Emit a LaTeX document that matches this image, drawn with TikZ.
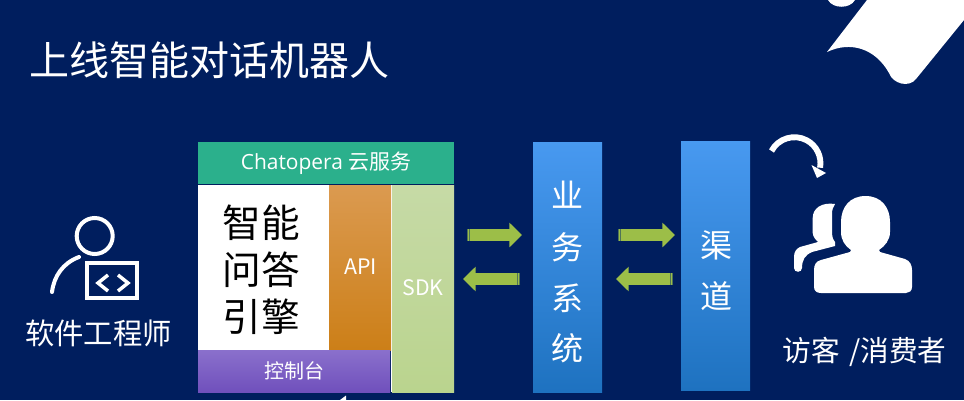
\documentclass[tikz,border=0pt]{standalone}
\usepackage{fontspec}
\setmainfont{Open Sans}
\newfontfamily\cjk{Noto Sans CJK SC}
\usetikzlibrary{positioning, arrows.meta, calc}

\definecolor{bgblue}{HTML}{001E5E}
\definecolor{flowgreen}{HTML}{9CBE48}
\definecolor{flowstripe}{HTML}{4F7458}

\tikzset{
    panel/.style={rectangle, inner sep=0pt, outer sep=0pt, text=white, align=center},
    label/.style={text=white, inner sep=0pt, font=\cjk\fontsize{#1}{#1}\selectfont},
    flow/.style={line width=9pt, draw=flowgreen, -{Triangle[width=18pt, length=9.5pt]},
        shorten >=#1, postaction={draw=flowstripe, -, line width=9pt,
        dash pattern=on 0.6pt off 0.7pt on 0.6pt off 400pt}},
    icon/.style={draw=white, line width=3pt, line cap=round, line join=miter}
}

\begin{document}
\begin{tikzpicture}[x=0.75pt, y=-0.75pt]
    \fill[bgblue] (0,0) rectangle (964,400);
    \useasboundingbox (0,0) rectangle (964,400);

    % corner shape
    \fill[white] (867,0) -- (827,52) .. controls (850,41) and (875,48) .. (889,73)
        .. controls (893,84) and (909,88) .. (916,79) -- (964,20) -- (964,0) -- cycle;
    \fill[white] (828,0) .. controls (833,9) and (850,9) .. (855,0) -- cycle;

    \node[label=30, anchor=west] (title) at (29,60) {上线智能对话机器人};

    % left person
    \draw[icon] (94.7,236) circle (18);
    \draw[icon] (79,257) .. controls (63,263) and (54,276) .. (52,292);
    \draw[icon, line width=3pt] (87,263) rectangle (137,298);
    \draw[icon, line width=2.6pt, line cap=butt] (108,275) -- (98,283) -- (108,291);
    \draw[icon, line width=2.6pt, line cap=butt] (118,275) -- (128,283) -- (118,291);
    \node[label=22] (engineer) at (98.5,333) {软件工程师};

    % cloud service block
    \fill[white] (390.5,185) rectangle (392.5,392);
    \node[panel, fill={rgb,255:red,43;green,176;blue,140}, minimum width=192pt, minimum height=31.2pt,
        anchor=north west, font=\fontsize{15.7}{15.7}\selectfont] (cloud) at (198,142) {Chatopera {\cjk 云服务}};
    \node[panel, fill=white, minimum width=98.25pt, minimum height=123.75pt, anchor=north west] (enginebox) at (198,185) {};
    \node[panel, text=black, font=\cjk\fontsize{29}{35.2}\selectfont] (engine) at (261,269.5) {智能\\问答\\引擎};
    \node[panel, top color={rgb,255:red,219;green,154;blue,80}, bottom color={rgb,255:red,204;green,127;blue,24},
        minimum width=46.5pt, minimum height=123.75pt, anchor=north west] (apibox) at (329,185) {};
    \node[label=16] (api) at (360.5,267) {API};
    \node[panel, top color={rgb,255:red,198;green,218;blue,166}, bottom color={rgb,255:red,186;green,212;blue,142},
        minimum width=46.5pt, minimum height=155.25pt, anchor=north west] (sdkbox) at (392,185) {};
    \node[label=16] (sdk) at (423,288) {SDK};
    \node[panel, top color={rgb,255:red,138;green,112;blue,204}, bottom color={rgb,255:red,112;green,80;blue,188},
        minimum width=144pt, minimum height=31.5pt, anchor=north west, font=\cjk\fontsize{15}{15}\selectfont]
        (console) at (198,350) {控制台};

    % business and channel
    \node[panel, top color={rgb,255:red,72;green,153;blue,240}, bottom color={rgb,255:red,30;green,114;blue,192},
        minimum width=51.75pt, minimum height=187.5pt, anchor=north west] (business) at (533,142) {};
    \node[label=24] (b1) at (567.5,195) {业};
    \node[label=24] (b2) at (567.5,247) {务};
    \node[label=24] (b3) at (567.5,298) {系};
    \node[label=24] (b4) at (567.5,348) {统};
    \node[panel, top color={rgb,255:red,72;green,153;blue,240}, bottom color={rgb,255:red,30;green,114;blue,192},
        minimum width=51.75pt, minimum height=186.75pt, anchor=north west] (channel) at (681,141) {};
    \node[label=24] (c1) at (716,245) {渠};
    \node[label=24] (c2) at (716,296) {道};

    % arrows
    \draw[flow=8.25pt] ([xshift=9.75pt]sdkbox.east |- 0,235) -- (business.west |- 0,235);
    \draw[flow=6.75pt] ([xshift=-9.75pt]business.west |- 0,279) -- (sdkbox.east |- 0,279);
    \draw[flow=4.5pt] ([xshift=12pt]business.east |- 0,235) -- (channel.west |- 0,235);
    \draw[flow=10.5pt] ([xshift=-6pt]channel.west |- 0,279) -- (business.east |- 0,279);

    % right person
    \draw[white, line width=4.4pt] (771.5,151) arc[start angle=-152, end angle=10, radius=26];
    \fill[white] (811.5,165) -- (826,173) -- (817,178) -- cycle;
    \fill[white] (865.5,196) .. controls (881,196) and (890,207) .. (890,222)
        -- (890,232) .. controls (890,240) and (885,246) .. (879,250) -- (880,252) -- (905,259)
        .. controls (910,261) and (912,265) .. (912,270) -- (912,287) .. controls (912,291) and (909,293) .. (906,293)
        -- (821,293) .. controls (817,293) and (814,291) .. (814,287) -- (814,270)
        .. controls (814,265) and (816,261) .. (821,260) -- (850,252) -- (851,250)
        .. controls (845,246) and (841,240) .. (841,232) -- (841,222)
        .. controls (841,207) and (850,196) .. (865.5,196) -- cycle;
    \fill[white] (835,204) .. controls (822,202) and (812.7,208) .. (812.7,218) -- (812.7,233)
        .. controls (813,237) and (816,240) .. (818,242) -- (800,247)
        .. controls (796,249) and (794,252) .. (794,257) -- (794,268)
        .. controls (794,273) and (802,273) .. (802,268) .. controls (802,260) and (805,255) .. (812,252)
        -- (835,246) -- (835,242) .. controls (832,238) and (832,235) .. (832,230) -- (832,214)
        .. controls (832,210) and (833,207) .. (835,204) -- cycle;
    \node[label=21.5] (visitor) at (864.5,352) {访客\,\,/消费者};

    \fill[white] (340,400) -- (346,395.5) -- (346,400) -- cycle;
\end{tikzpicture}
\end{document}
